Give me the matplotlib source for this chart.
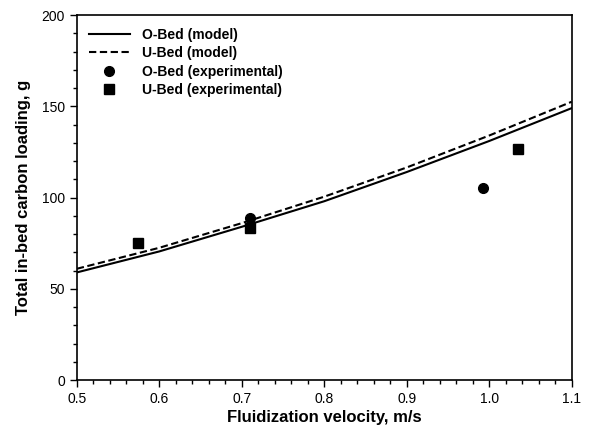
import matplotlib.pyplot as plt
from matplotlib.ticker import MultipleLocator

plt.rcParams['font.family'] = ['Liberation Sans', 'DejaVu Sans']

# model curves
v_model = [0.5, 0.6, 0.7, 0.8, 0.9, 1.0, 1.1]
o_model = [59, 70.5, 84, 98, 114, 131, 149]
u_model = [61, 72.5, 86, 100.5, 116.5, 134, 152.5]

# experimental points
v_o_exp = [0.71, 0.992]
o_exp = [88.8, 105.2]
v_u_exp = [0.574, 0.71, 1.035]
u_exp = [75, 83.3, 126.6]

fig = plt.figure(figsize=(6.05, 4.42), dpi=100)
ax = fig.add_axes([0.127, 0.140, 0.818, 0.826])

ax.plot(v_model, o_model, color='black', lw=1.5, label='O-Bed (model)')
ax.plot(v_model, u_model, color='black', lw=1.5, ls=(0, (3.5, 1.7)), label='U-Bed (model)')
ax.plot(v_o_exp, o_exp, 'o', color='black', ms=7, label='O-Bed (experimental)')
ax.plot(v_u_exp, u_exp, 's', color='black', ms=6.5, label='U-Bed (experimental)')

ax.set_xlim(0.5, 1.1)
ax.set_ylim(0, 200)
ax.set_xticks([0.5, 0.6, 0.7, 0.8, 0.9, 1.0, 1.1])
ax.set_xticklabels(['0.5', '0.6', '0.7', '0.8', '0.9', '1.0', '1.1'])
ax.xaxis.set_minor_locator(MultipleLocator(0.02))
ax.yaxis.set_major_locator(MultipleLocator(50))
ax.yaxis.set_minor_locator(MultipleLocator(10))
ax.tick_params(axis='both', which='major', direction='out', length=5, width=1, labelsize=10)
ax.tick_params(axis='both', which='minor', direction='out', length=3, width=1)
for s in ax.spines.values():
    s.set_linewidth(1.2)

ax.set_xlabel('Fluidization velocity, m/s', fontsize=12, fontweight='bold', labelpad=3)
ax.set_ylabel('Total in-bed carbon loading, g', fontsize=12, fontweight='bold', labelpad=8)

ax.legend(loc='upper left', frameon=False, handlelength=2.9,
          handletextpad=0.86, labelspacing=0.33,
          prop={'weight': 'bold', 'size': 10})

fig.savefig('out.png', dpi=100)
